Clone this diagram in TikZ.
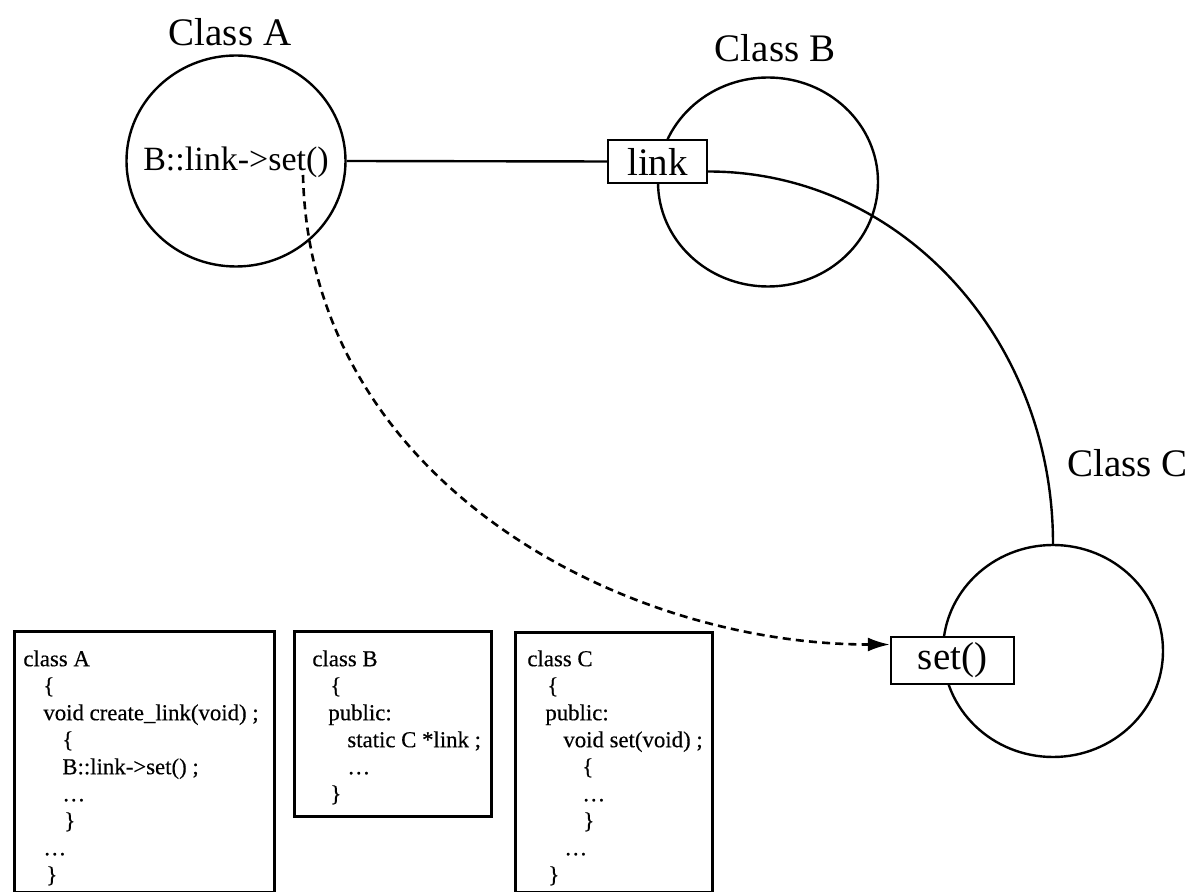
\documentclass[tikz,border=0pt]{standalone}
\usepackage{fontspec}
\setmainfont{Liberation Serif}
\newfontfamily\codefont[FakeBold=0.4]{Liberation Serif}
\usetikzlibrary{shapes.geometric, arrows.meta}
\begin{document}
\begin{tikzpicture}[x=0.5pt, y=-0.5pt,
  ring/.style={draw, ellipse, line width=1.2pt, inner sep=0pt},
  biglabel/.style={font=\fontsize{19.5}{22}\selectfont, inner sep=0pt},
  port/.style={draw, rectangle, line width=1.2pt, inner sep=0pt, fill=white,
     font=\fontsize{19.5}{22}\selectfont},
  codebox/.style={draw, rectangle, line width=1.3pt, inner sep=0pt, anchor=north west},
  codetext/.style={anchor=north west, align=left, inner sep=0pt,
     font=\codefont\fontsize{11.4}{13.5}\selectfont},
  conn/.style={line width=1.2pt},
  dashedconn/.style={line width=1.3pt, dash pattern=on 4pt off 2.6pt},
]
\useasboundingbox (0,0) rectangle (1195,892);
\fill[white] (0,0) rectangle (1195,892);

% circles
\node[ring, minimum width=109.5pt, minimum height=105.5pt] (A) at (236,161) {};
\node[ring, minimum width=110pt, minimum height=104.5pt] (B) at (768,182) {};
\node[ring, minimum width=110pt, minimum height=106pt] (C) at (1053,651) {};

% labels
\node[biglabel] (labA) at (230,32) {Class A};
\node[biglabel] (labB) at (775,48) {Class B};
\node[biglabel, anchor=west] (labC) at (1067,463) {Class C};
\node[inner sep=0pt, font=\fontsize{17}{20}\selectfont] (call) at (236,162) {B::link->set()};

% ports
\node[port, minimum width=49.5pt, minimum height=21.5pt] (link) at (657.5,161.5) {link};
\node[port, minimum width=61.5pt, minimum height=23.5pt] (set) at (952.5,660.5) {set()};

% connectors
\draw[conn] (A.east) -- (link.west);
\draw[conn] ([yshift=-5pt]link.east) .. controls +(192,0) and +(0,-206) .. (C.north);
\coordinate (s) at (303,175);
\draw[dashedconn, -{Latex[length=11pt, width=7pt]}] (s) .. controls (310,480) and (620,644.5) .. ([yshift=8pt]set.west);

% code boxes
\node[codebox, minimum width=130pt, minimum height=130.5pt] (boxA) at (13,630) {};
\node[codebox, minimum width=98.5pt, minimum height=92.5pt] (boxB) at (293,630) {};
\node[codebox, minimum width=98.5pt, minimum height=130pt] (boxC) at (514,631) {};

\node[codetext] (txtA) at (23,650) {class A\\
\hspace*{10pt}\{\\
\hspace*{10pt}void create\_link(void) ;\\
\hspace*{19.5pt}\{\\
\hspace*{19.5pt}B::link->set() ;\\
\hspace*{19.5pt}\dots\\
\hspace*{20.5pt}\}\\
\hspace*{10pt}\dots\\
\hspace*{11.5pt}\}};

\node[codetext] (txtB) at (312,650) {class B\\
\hspace*{9pt}\{\\
\hspace*{8pt}public:\\
\hspace*{17.5pt}static C *link ;\\
\hspace*{17.5pt}\dots\\
\hspace*{9pt}\}};

\node[codetext] (txtC) at (527,650) {class C\\
\hspace*{10pt}\{\\
\hspace*{9pt}public:\\
\hspace*{18pt}void set(void) ;\\
\hspace*{27.5pt}\{\\
\hspace*{27.5pt}\dots\\
\hspace*{28pt}\}\\
\hspace*{18.5pt}\dots\\
\hspace*{10.5pt}\}};
\end{tikzpicture}
\end{document}
